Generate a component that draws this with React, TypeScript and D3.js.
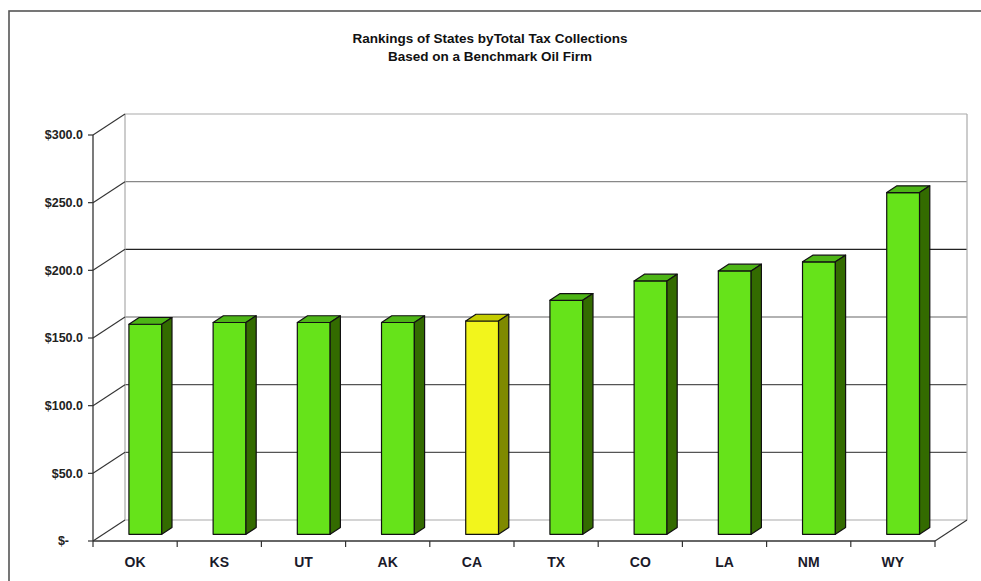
import React from 'react';
import * as d3 from 'd3';

const states = ['OK', 'KS', 'UT', 'AK', 'CA', 'TX', 'CO', 'LA', 'NM', 'WY'];
const collections = [155.2, 156.5, 156.5, 156.5, 157.6, 172.9, 187.2, 194.6, 201.3, 252.5];
const highlighted = ['CA'];
const yTicks = [0, 50, 100, 150, 200, 250, 300];
const titleLines = ['Rankings of States byTotal Tax Collections', 'Based on a Benchmark Oil Firm'];

const W = 981;
const H = 581;

// 3d-ish geometry of the chart box
const plot = { left: 93, right: 935, bottom: 541, top: 135 };
const depth = { dx: 32, dy: -21 };
const barShift = 0.32; // front face of bars sits this far into the floor
const barDepth = 0.32;

const colors = {
  green: { front: '#66e31a', top: '#4db516', side: '#336b00' },
  yellow: { front: '#f2f51c', top: '#c4cc00', side: '#7f8a00' },
};

const gridColor: Record<number, string> = { 50: '#555', 100: '#555', 150: '#666', 200: '#222', 250: '#888', 300: '#aaa' };

const fmtTick = (v: number) => (v === 0 ? '$-' : '$' + v.toFixed(1));

const App: React.FC = () => {
  const x = d3.scaleBand<string>().domain(states).range([plot.left, plot.right]);
  const y = d3.scaleLinear().domain([0, 300]).range([plot.bottom, plot.top]);

  const bw = x.bandwidth() * 0.39;
  const sx = depth.dx * barShift;
  const sy = depth.dy * barShift;
  const bdx = depth.dx * barDepth;
  const bdy = depth.dy * barDepth;

  const backLeft = plot.left + depth.dx;
  const backRight = plot.right + depth.dx;

  const font = 'Liberation Sans, Arial, sans-serif';

  return (
    <div style={{ position: 'absolute', left: 0, top: 0 }}>
      <svg width={W} height={H} style={{ display: 'block', background: '#fff' }}>
        {/* outer frame, runs off the right and bottom edges */}
        <rect x={9} y={11} width={1000} height={H} fill="none" stroke="#555" strokeWidth={1.6} />

        {/* title */}
        {titleLines.map((t, i) => (
          <text key={t} x={490} y={43 + i * 18} textAnchor="middle" fontFamily={font}
            fontWeight="bold" fontSize={13.5} fill="#111">{t}</text>
        ))}

        {/* back wall gridlines */}
        {yTicks.slice(1).map(v => (
          <line key={'g' + v} x1={backLeft} x2={backRight} y1={y(v) + depth.dy} y2={y(v) + depth.dy}
            stroke={gridColor[v]} strokeWidth={1.2} />
        ))}
        {/* back floor line and wall edges */}
        <line x1={backLeft} x2={backRight} y1={y(0) + depth.dy} y2={y(0) + depth.dy} stroke="#aaa" strokeWidth={1.2} />
        <line x1={backLeft} x2={backLeft} y1={y(0) + depth.dy} y2={y(300) + depth.dy} stroke="#aaa" strokeWidth={1.2} />
        <line x1={backRight} x2={backRight} y1={y(0) + depth.dy} y2={y(300) + depth.dy} stroke="#aaa" strokeWidth={1.2} />

        {/* side wall diagonals */}
        {yTicks.map(v => (
          <line key={'d' + v} x1={plot.left} y1={y(v)} x2={backLeft} y2={y(v) + depth.dy}
            stroke="#333" strokeWidth={1.1} />
        ))}
        {/* floor right diagonal */}
        <line x1={plot.right} y1={y(0)} x2={backRight} y2={y(0) + depth.dy} stroke="#333" strokeWidth={1.1} />

        {/* bars */}
        {states.map((s, i) => {
          const c = highlighted.includes(s) ? colors.yellow : colors.green;
          const x0 = (x(s) as number) + (x.bandwidth() - bw) / 2 + sx;
          const x1 = x0 + bw;
          const yb = y(0) + sy;
          const yt = y(collections[i]) + sy;
          return (
            <g key={s} stroke="#111" strokeWidth={1.2} strokeLinejoin="round">
              <rect x={x0} y={yt} width={bw} height={yb - yt} fill={c.front} />
              <polygon points={`${x0},${yt} ${x1},${yt} ${x1 + bdx},${yt + bdy} ${x0 + bdx},${yt + bdy}`} fill={c.top} />
              <polygon points={`${x1},${yt} ${x1 + bdx},${yt + bdy} ${x1 + bdx},${yb + bdy} ${x1},${yb}`} fill={c.side} />
            </g>
          );
        })}

        {/* front axes */}
        <line x1={plot.left} x2={plot.left} y1={y(0)} y2={y(300)} stroke="#333" strokeWidth={1.3} />
        <line x1={plot.left} x2={plot.right} y1={y(0)} y2={y(0)} stroke="#333" strokeWidth={1.3} />

        {/* y ticks */}
        {yTicks.map(v => (
          <g key={'t' + v}>
            <line x1={plot.left - 5} x2={plot.left} y1={y(v)} y2={y(v)} stroke="#333" strokeWidth={1.2} />
            <text x={v === 0 ? 69 : 83} y={y(v)} dy="0.35em" textAnchor="end" fontFamily={font}
              fontWeight="bold" fontSize={12.5} fill="#222">{fmtTick(v)}</text>
          </g>
        ))}

        {/* x ticks */}
        {d3.range(states.length + 1).map(k => {
          const xx = plot.left + k * x.step();
          return <line key={'xt' + k} x1={xx} x2={xx} y1={y(0)} y2={y(0) + 6} stroke="#333" strokeWidth={1.2} />;
        })}
        {states.map(s => (
          <text key={'l' + s} x={(x(s) as number) + x.bandwidth() / 2} y={567} textAnchor="middle"
            fontFamily={font} fontWeight="bold" fontSize={14} fill="#1a1a2a">{s}</text>
        ))}
      </svg>
    </div>
  );
};

export default App;
